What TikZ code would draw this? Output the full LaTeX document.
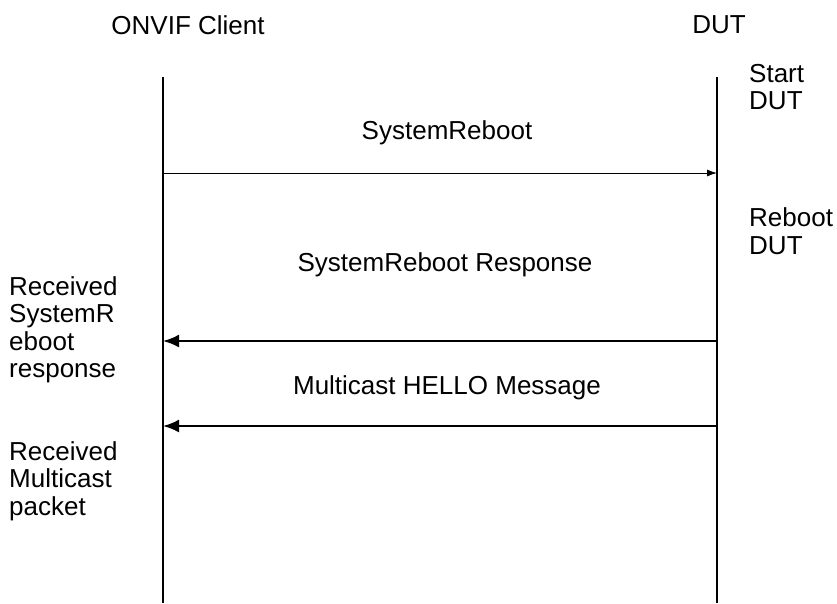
\documentclass[tikz,border=0pt]{standalone}
\usepackage{fontspec}
\setmainfont{Liberation Sans}
\usetikzlibrary{arrows.meta,positioning,calc}

\begin{document}
\begin{tikzpicture}[
  x=1pt,y=-1pt,
  lbl/.style={font=\fontsize{26}{27.5}\selectfont,inner sep=0pt},
  side/.style={lbl,align=left,anchor=west},
  life/.style={line width=1.2pt},
  call/.style={line width=0.9pt,-{Latex[length=10pt,width=7pt]}},
  reply/.style={line width=2.2pt,-{Latex[length=16pt,width=13pt]}}
]
\useasboundingbox (0,0) rectangle (837,603);
% actors
\node[lbl] (cl)  at (188,25) {ONVIF Client};
\node[lbl] (dut) at (719,25) {DUT};
% lifelines
\coordinate (clT) at (163,77);  \coordinate (clB) at (163,603);
\coordinate (duT) at (717,77);  \coordinate (duB) at (717,603);
\draw[life] (clT) -- (clB);
\draw[life] (duT) -- (duB);
% messages
\coordinate (c1) at (163,173); \coordinate (d1) at (717,173);
\coordinate (c2) at (163,341); \coordinate (d2) at (717,341);
\coordinate (c3) at (163,426); \coordinate (d3) at (717,426);
\node[lbl] (m1) at (447,133) {SystemReboot};
\node[lbl] (m2) at (445,265) {SystemReboot Response};
\node[lbl] (m3) at (447,388) {Multicast HELLO Message};
\draw[call]  (c1) -- (d1);
\draw[reply] (d2) -- (c2);
\draw[reply] (d3) -- (c3);
% notes
\node[side] (s1) at (749,87)  {Start\\DUT};
\node[side] (s2) at (749,231) {Reboot\\DUT};
\node[side] (r1) at (9,330)   {Received\\SystemR\\eboot\\response};
\node[side] (r2) at (9,481)   {Received\\Multicast\\packet};
\end{tikzpicture}
\end{document}
